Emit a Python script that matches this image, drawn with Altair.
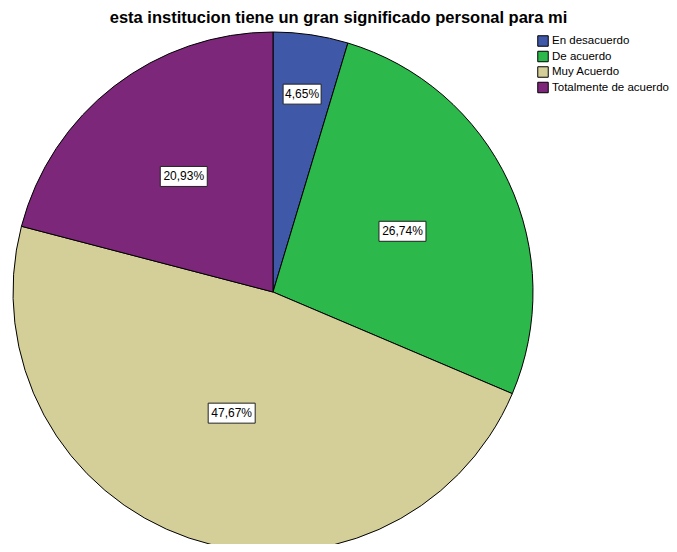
import altair as alt
import pandas as pd

# ---- data ----
categories = ["En desacuerdo", "De acuerdo", "Muy Acuerdo", "Totalmente de acuerdo"]
percents = [4.65, 26.74, 47.67, 20.93]
labels = ["4,65%", "26,74%", "47,67%", "20,93%"]

# ---- style / layout ----
colors = ["#3F59A8", "#2DB84C", "#D4CE98", "#7C2779"]
label_radius = {"En desacuerdo": 200, "De acuerdo": 143, "Muy Acuerdo": 128,
                "Totalmente de acuerdo": 146}
CX, CY, R = 265, 264, 260

df = pd.DataFrame({"cat": categories, "pct": percents, "label": labels,
                   "order": list(range(len(categories)))})
df["lr"] = df["cat"].map(label_radius)

base = alt.Chart(df)

pie = base.mark_arc(outerRadius=R, stroke="black", strokeWidth=1).encode(
    theta=alt.Theta("pct:Q", stack=True),
    color=alt.Color(
        "cat:N",
        scale=alt.Scale(domain=categories, range=colors),
        sort=categories,
        legend=alt.Legend(
            orient="none", legendX=529, legendY=7, title=None,
            symbolType="square", symbolSize=110,
            symbolStrokeColor="black", symbolStrokeWidth=1,
            labelFont="Liberation Sans", labelFontSize=11.5, labelColor="black",
            rowPadding=-0.5, labelOffset=3, labelLimit=200,
        ),
    ),
    order=alt.Order("order:Q"),
    x=alt.value(CX),
    y=alt.value(CY),
)

lab = base.transform_joinaggregate(total="sum(pct)").transform_window(
    cum="sum(pct)", sort=[alt.SortField("order")]
).transform_calculate(
    mid="(datum.cum - datum.pct/2) / datum.total * 2 * PI",
).transform_calculate(
    lx=f"{CX} + datum.lr * sin(datum.mid)",
    ly=f"{CY} - datum.lr * cos(datum.mid)",
    w="9 * length(datum.label) - 7",
).transform_calculate(
    x1="datum.lx - datum.w/2", x2="datum.lx + datum.w/2",
    y1="datum.ly - 10", y2="datum.ly + 10",
)

boxes = lab.mark_rect(fill="white", stroke="#222222", strokeWidth=1).encode(
    x=alt.X("x1:Q", scale=None, axis=None),
    x2="x2:Q",
    y=alt.Y("y1:Q", scale=None, axis=None),
    y2="y2:Q",
)

texts = lab.mark_text(font="Liberation Sans", fontSize=12, color="black").encode(
    x=alt.X("lx:Q", scale=None, axis=None),
    y=alt.Y("ly:Q", scale=None, axis=None),
    text="label:N",
)

chart = alt.layer(pie, boxes, texts).properties(
    width=661, height=516,
    padding={"left": 0, "top": 20, "right": 0, "bottom": 0},
    autosize="none",
    title=alt.TitleParams(
        "esta institucion tiene un gran significado personal para mi",
        font="Liberation Sans", fontSize=16.5, fontWeight="bold",
        anchor="middle", color="black", offset=2,
    ),
).configure(background="white").configure_view(stroke=None)

chart.save("out.html", embed_options={"renderer": "svg", "actions": False})
